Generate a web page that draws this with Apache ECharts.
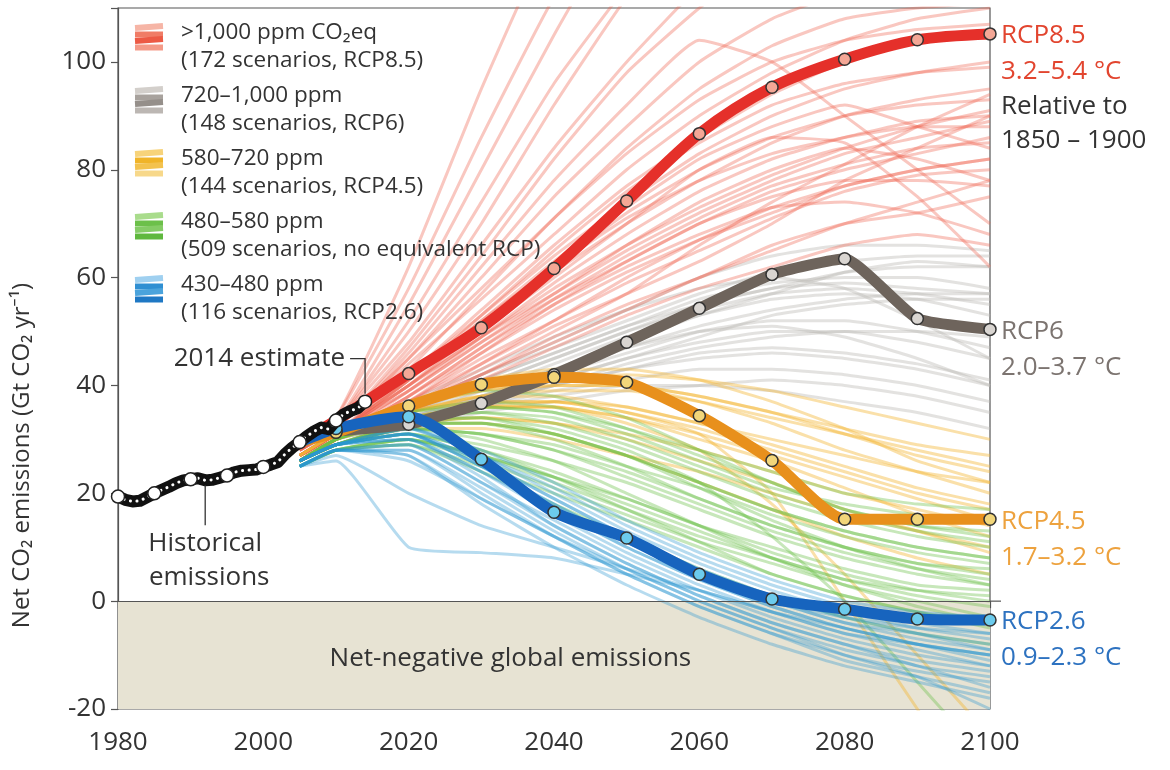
<!DOCTYPE html>
<html><head><meta charset="utf-8">
<script src="https://cdn.jsdelivr.net/npm/echarts@6/dist/echarts.min.js"></script>
<style>html,body{margin:0;padding:0;background:#fff}#c{width:1170px;height:770px}</style>
</head><body><div id="c"></div>
<script>
// ---------- DATA ----------
const xTicks = [1980, 2000, 2020, 2040, 2060, 2080, 2100];
const yTicks = [-20, 0, 20, 40, 60, 80, 100];

const histYears = [1980,1981,1982,1983,1984,1985,1986,1987,1988,1989,1990,1991,1992,1993,1994,1995,1996,1997,1998,1999,2000,2001,2002,2003,2004,2005,2006,2007,2008,2009,2010,2011,2012,2013,2014];
const histValues = [19.4,18.8,18.5,18.6,19.3,20.0,20.6,21.2,21.9,22.4,22.6,22.8,22.4,22.5,22.9,23.3,23.9,24.2,24.3,24.4,24.9,25.3,25.8,27.3,28.5,29.5,30.6,31.5,32.2,31.9,33.5,34.6,35.3,35.8,37.0];
const histMarkerYears = [1980,1985,1990,1995,2000,2005,2010,2014];

const scenYears = [2005,2010,2020,2030,2040,2050,2060,2070,2080,2090,2100];

const rcp85 = [29.5,33.5,42.2,50.7,61.7,74.2,86.7,95.3,100.5,104.1,105.2];
const rcp6  = [29.5,31.5,32.8,36.7,42.0,48.0,54.3,60.6,63.5,52.4,50.4];
const rcp45 = [29.5,31.3,36.2,40.2,41.5,40.6,34.4,26.1,15.2,15.2,15.2];
const rcp26 = [29.5,32.0,34.2,26.3,16.5,11.7,5.0,0.4,-1.5,-3.3,-3.5];

const redScen = [
 [29,34,62,95,125,150,170,185,195,200,205],
 [29,33,55,80,105,128,145,160,170,178,185],
 [28,33,50,70,92,112,128,140,150,155,160],
 [28,32,47,64,82,98,110,120,126,130,132],
 [28,32,45,60,75,88,100,108,113,116,118],
 [28,32,44,56,68,80,90,98,104,108,110],
 [27,31,42,53,64,74,83,90,95,98,100],
 [27,31,41,51,61,70,78,85,90,93,95],
 [27,31,40,49,58,66,73,79,84,88,91],
 [27,31,39,48,56,63,70,76,80,83,86],
 [27,30,38,46,54,61,67,72,77,80,82],
 [26,30,37,45,52,59,65,71,76,79,80],
 [26,30,37,44,51,57,63,70,78,84,90],
 [26,30,36,43,50,57,66,74,81,88,94],
 [27,31,40,50,60,70,80,86,85,75,62],
 [27,31,39,48,57,66,74,80,84,82,78],
 [26,30,36,42,49,55,60,66,70,72,75],
 [28,32,46,62,78,92,104,100,90,80,70],
 [27,31,41,52,63,73,82,88,92,88,84],
 [28,33,52,74,96,114,130,142,150,156,160],
 [26,30,35,41,47,53,58,62,66,68,66],
 [27,31,42,54,66,77,86,94,100,104,106],
 [27,31,43,57,71,84,95,103,108,110,111],
 [26,30,38,47,55,62,68,73,74,72,68],
 [27,31,41,53,65,76,85,92,96,98,99],
 [27,31,40,51,62,72,80,86,90,92,93],
 [27,30,39,49,59,68,76,82,86,89,90],
 [26,30,38,47,56,64,71,77,81,84,85],
 [26,30,37,46,55,63,70,75,78,78,77],
 [26,30,36,44,52,60,67,73,77,80,82],
 [27,31,41,52,62,71,78,83,86,88,88],
 [28,32,45,58,71,83,93,100,104,106,107],
 [28,33,48,66,84,100,114,124,130,134,136],
 [29,34,58,86,112,132,150,162,170,175,178],
 [26,30,36,42,48,54,60,65,70,74,78],
 [27,31,40,49,57,65,72,78,83,86,89]
];
const grayScen = [
 [27,31,36,42,48,54,60,64,66,66,65],
 [27,31,35,40,45,50,54,57,58,57,55],
 [26,30,34,38,42,46,50,52,52,50,47],
 [26,30,34,37,40,43,46,47,46,44,41],
 [26,30,33,36,39,41,43,43,42,40,37],
 [26,29,33,36,38,40,40,39,37,35,32],
 [27,31,36,41,46,51,56,59,60,60,58],
 [26,30,35,39,43,47,50,51,49,45,40],
 [26,30,33,37,41,45,49,53,55,56,56],
 [27,31,37,43,49,54,58,60,58,52,45],
 [26,29,32,35,37,39,40,41,40,38,35],
 [26,30,34,38,43,48,53,57,61,63,62],
 [26,30,35,40,45,50,55,58,61,62,62],
 [26,30,34,39,44,49,53,56,57,56,53],
 [26,30,33,37,41,45,48,50,50,48,45],
 [27,31,36,41,46,51,55,58,59,58,57],
 [26,29,33,36,40,43,45,46,45,43,40],
 [26,30,34,38,42,47,51,54,56,57,57],
 [27,31,36,42,47,52,57,61,63,64,64],
 [26,30,34,37,40,44,47,49,50,50,49]
];
const yellowScen = [
 [27,31,37,40,41,40,37,33,28,24,20],
 [26,30,35,37,37,35,32,28,24,20,17],
 [26,30,34,36,36,34,30,26,21,16,12],
 [27,31,36,39,41,42,41,39,36,33,30],
 [26,29,33,34,33,30,26,22,17,13,9],
 [26,30,35,38,39,39,37,34,31,28,25],
 [26,30,33,33,31,27,22,17,12,8,5],
 [27,31,37,41,43,43,41,37,32,26,22],
 [26,29,32,32,30,27,24,20,16,13,10],
 [26,30,34,36,36,33,28,18,5,-10,-25],
 [26,30,35,38,38,36,33,30,27,24,22],
 [26,30,35,38,40,40,38,35,32,29,27],
 [26,30,34,36,37,36,33,29,25,21,18],
 [27,31,36,39,40,40,38,35,31,27,24],
 [26,29,33,34,33,31,28,24,20,17,14],
 [26,30,34,36,36,34,31,27,23,19,15],
 [26,30,35,37,37,35,31,20,0,-20,-40]
];
const greenScen = [
 [26,30,34,34,31,27,22,17,13,10,8],
 [26,29,32,31,28,23,18,13,9,6,4],
 [26,29,31,28,24,19,14,9,5,2,0],
 [26,30,35,37,36,32,27,22,17,14,12],
 [25,28,30,26,21,16,11,7,3,0,-3],
 [26,29,33,33,30,25,19,14,10,7,5],
 [26,30,36,39,38,34,28,22,17,14,13],
 [25,28,29,24,18,12,6,1,-3,-6,-8],
 [26,29,32,30,26,20,14,8,3,-1,-4],
 [26,29,33,34,32,28,22,12,0,-15,-30],
 [26,30,34,36,35,31,26,21,18,16,15],
 [25,28,30,27,22,17,12,8,4,2,1],
 [26,29,31,28,23,17,11,5,1,-2,-5],
 [26,30,34,35,33,29,24,19,15,12,10],
 [26,30,33,33,31,27,22,17,13,10,8],
 [26,29,32,31,29,25,21,16,12,9,7],
 [26,29,31,29,26,22,17,12,8,5,3],
 [25,28,30,27,23,18,13,8,4,1,-1],
 [26,30,34,35,34,30,25,20,16,13,11],
 [26,29,32,31,28,24,19,14,10,7,6],
 [25,28,29,25,20,15,10,5,1,-2,-4],
 [26,29,33,33,31,27,21,15,10,6,3],
 [26,30,35,36,35,32,28,24,20,18,17],
 [25,28,30,27,23,19,14,10,6,3,2]
];
const blueScen = [
 [26,29,31,25,17,10,4,-1,-5,-8,-10],
 [26,29,30,23,14,7,1,-4,-8,-11,-13],
 [25,28,28,20,12,5,-1,-6,-10,-13,-15],
 [26,29,32,27,20,13,7,2,-2,-5,-7],
 [25,28,27,18,10,3,-3,-8,-12,-15,-18],
 [26,29,31,26,19,12,5,0,-4,-6,-8],
 [25,26,10,9,8,5,2,-2,-6,-8,-10],
 [26,29,30,24,16,9,3,-2,-6,-9,-12],
 [26,29,32,28,22,15,9,4,0,-2,-3],
 [25,28,26,19,12,6,0,-5,-10,-14,-20],
 [26,29,31,25,18,11,5,0,-3,-5,-6],
 [25,28,29,22,15,8,2,-3,-7,-10,-12],
 [26,29,31,25,18,11,5,0,-4,-7,-9],
 [26,29,30,24,17,10,4,-1,-5,-8,-11],
 [25,28,29,22,14,7,1,-4,-8,-12,-14],
 [26,29,31,26,19,12,6,1,-3,-6,-9],
 [25,28,28,21,13,6,0,-5,-9,-12,-16],
 [26,29,32,27,21,14,8,3,-1,-4,-6],
 [25,28,27,19,12,5,-1,-6,-11,-14,-17],
 [25,27,20,14,10,6,2,-2,-5,-8,-10]
];

const legendLines = [
 ['>1,000 ppm CO₂eq','(172 scenarios, RCP8.5)'],
 ['720–1,000 ppm','(148 scenarios, RCP6)'],
 ['580–720 ppm','(144 scenarios, RCP4.5)'],
 ['480–580 ppm','(509 scenarios, no equivalent RCP)'],
 ['430–480 ppm','(116 scenarios, RCP2.6)']
];
const rcpLabels = [
 ['RCP8.5','3.2–5.4 °C'],
 ['RCP6','2.0–3.7 °C'],
 ['RCP4.5','1.7–3.2 °C'],
 ['RCP2.6','0.9–2.3 °C']
];
const yTitle = 'Net CO₂ emissions (Gt CO₂ yr⁻¹)';

// ---------- STYLE ----------
const FONT = '"Open Sans", "Noto Sans", sans-serif';
const TXT = '#333';
const scenStyles = [
 {data: grayScen,   color:'#bdb9b5', op:0.42},
 {data: redScen,    color:'#ef6450', op:0.36},
 {data: yellowScen, color:'#f2b431', op:0.42},
 {data: greenScen,  color:'#6cc04a', op:0.38},
 {data: blueScen,   color:'#2a95d0', op:0.34}
];
const rcpDefs = [
 {vals: rcp6,  line:'#6e645c', mark:'#d9d5d1', label:'#7c7470', smooth:0.15},
 {vals: rcp85, line:'#e5302a', mark:'#f4a796', label:'#e2452f', smooth:0.3},
 {vals: rcp45, line:'#e8901c', mark:'#f2d67a', label:'#eda23e', smooth:0.2},
 {vals: rcp26, line:'#1764be', mark:'#6ccbed', label:'#2d72c0', smooth:0.25}
];
const rcpLabelOrder = [1,0,2,3];

const chart = echarts.init(document.getElementById('c'), null, {renderer:'canvas'});

const series = [];
series.push({
  type:'line', data:[], silent:true, z:0,
  markArea:{silent:true, itemStyle:{color:'#e7e3d3'}, data:[[{yAxis:-20},{yAxis:0}]]}
});
scenStyles.forEach(g => {
  g.data.forEach(arr => {
    series.push({
      type:'line', silent:true, symbol:'none', smooth:0.15, z:1,
      lineStyle:{color:g.color, width:3, opacity:g.op},
      data: scenYears.map((y,i)=>[y, arr[i]])
    });
  });
});
series.push({
  type:'line', data:[], silent:true, z:2,
  markLine:{silent:true, symbol:'none', label:{show:false},
    lineStyle:{color:'#555', width:1.2, type:'solid'}, data:[{yAxis:0}]}
});
rcpDefs.forEach(d => {
  series.push({
    type:'line', silent:true, z:5, smooth:d.smooth,
    symbol:'circle', symbolSize:12, showAllSymbol:true,
    lineStyle:{color:d.line, width:11, cap:'round', join:'round'},
    itemStyle:{color:d.mark, borderColor:'#333', borderWidth:1.5},
    data: scenYears.map((y,i)=> i===0 ? {value:[y,d.vals[i]], symbol:'none'} : [y, d.vals[i]])
  });
});
series.push({
  type:'line', silent:true, z:8, symbol:'none',
  lineStyle:{color:'#111', width:12, cap:'round', join:'round'},
  data: histYears.map((y,i)=>[y, histValues[i]])
});
series.push({
  type:'line', silent:true, z:9, symbol:'none',
  lineStyle:{color:'#fff', width:3, type:[0.1,6.5], cap:'round'},
  data: histYears.map((y,i)=>[y, histValues[i]])
});
series.push({
  type:'scatter', silent:true, z:10, symbolSize:13,
  itemStyle:{color:'#fff', borderColor:'#222', borderWidth:1.5, opacity:1},
  data: histMarkerYears.map(y=>[y, histValues[histYears.indexOf(y)]])
});

const option = {
  animation:false,
  textStyle:{fontFamily:FONT},
  grid:{left:118, right:180, top:8, bottom:61, show:true, borderColor:'#555', borderWidth:1.2,
        backgroundColor:'transparent', containLabel:false, outerBoundsMode:'none'},
  xAxis:{type:'value', min:1980, max:2100, interval:20,
    axisLine:{lineStyle:{color:'#555', width:1.2}},
    axisTick:{show:true, length:7, lineStyle:{color:'#555', width:1.2}},
    axisLabel:{color:TXT, fontSize:26, margin:21, fontFamily:FONT, formatter:v=>xTicks.includes(v)?String(v):''},
    splitLine:{show:false}},
  yAxis:{type:'value', min:-20, max:110, interval:20,
    axisLine:{show:true, lineStyle:{color:'#555', width:1.2}},
    axisTick:{show:true, length:7, lineStyle:{color:'#555', width:1.2}},
    axisLabel:{color:TXT, fontSize:26, margin:12, fontFamily:FONT, formatter:v=>yTicks.includes(v)?String(v):''},
    splitLine:{show:false}},
  series: series
};
chart.setOption(option);

// ---------- ANNOTATIONS (positions derived from data via axes) ----------
function px(x,y){ return chart.convertToPixel({gridIndex:0},[x,y]); }
const g = [];
const swatchCols = [
 ['#f6b5a6','#f07c66','#ec5a45','#f49a88'],
 ['#d3cfcb','#a8a29d','#958f8a','#bcb7b3'],
 ['#f7d37a','#f0b429','#f3c24e','#f7d88a'],
 ['#a9dc8c','#6cc04a','#85cc66','#5fb83e'],
 ['#9fd0f0','#2f8fd2','#4aa3dc','#1f78c4']
];
const legTop = [33, 96, 159, 222, 285];
legendLines.forEach((L,i)=>{
  const y0 = legTop[i];
  for(let k=0;k<4;k++){
    g.push({type:'line', silent:true, z:20,
      shape:{x1:135, y1:y0-5+k*6.5, x2:163, y2:y0-7+k*6.5+(k%2?2:0)},
      style:{stroke:swatchCols[i][k], lineWidth:6}});
  }
  g.push({type:'text', silent:true, z:20, style:{text:L[0], x:181, y:y0, fill:TXT, font:'22.5px '+FONT, textVerticalAlign:'middle'}});
  g.push({type:'text', silent:true, z:20, style:{text:L[1], x:181, y:y0+28, fill:TXT, font:'22.5px '+FONT, textVerticalAlign:'middle'}});
});

// y axis title
const yc = px(1980, 27);
g.push({type:'text', silent:true, z:20, rotation:Math.PI/2, x:yc[0]-96, y:yc[1],
  style:{text:yTitle, x:0, y:0, fill:TXT, font:'24px '+FONT, textAlign:'center', textVerticalAlign:'middle'}});

// right labels
rcpLabelOrder.forEach((di,li)=>{
  const d = rcpDefs[di];
  const p = px(2100, d.vals[d.vals.length-1]);
  const labs = rcpLabels[li];
  g.push({type:'text', silent:true, z:20, style:{text:labs[0], x:p[0]+11, y:p[1]+2, fill:d.label, font:'26px '+FONT, textVerticalAlign:'middle'}});
  g.push({type:'text', silent:true, z:20, style:{text:labs[1], x:p[0]+11, y:p[1]+38, fill:d.label, font:'26px '+FONT, textVerticalAlign:'middle'}});
  if(li===0){
    g.push({type:'text', silent:true, z:20, style:{text:'Relative to', x:p[0]+11, y:p[1]+73, fill:TXT, font:'26px '+FONT, textVerticalAlign:'middle'}});
    g.push({type:'text', silent:true, z:20, style:{text:'1850 – 1900', x:p[0]+11, y:p[1]+107, fill:TXT, font:'26px '+FONT, textVerticalAlign:'middle'}});
  }
});

// zero line extension to the right
const z0 = px(2100,0);
g.push({type:'line', silent:true, z:20, shape:{x1:z0[0], y1:z0[1], x2:z0[0]+11, y2:z0[1]}, style:{stroke:'#555', lineWidth:1.2}});

// Net-negative text
const nn = px(2034,-10.7);
g.push({type:'text', silent:true, z:20, style:{text:'Net-negative global emissions', x:nn[0], y:nn[1], fill:TXT, font:'26px '+FONT, textAlign:'center', textVerticalAlign:'middle'}});

// 2014 estimate
const e = px(2014, histValues[histValues.length-1]);
g.push({type:'text', silent:true, z:20, style:{text:'2014 estimate', x:e[0]-20, y:e[1]-43, fill:TXT, font:'26px '+FONT, textAlign:'right', textVerticalAlign:'middle'}});
g.push({type:'polyline', silent:true, z:20, shape:{points:[[e[0]-15,e[1]-43],[e[0],e[1]-43],[e[0],e[1]-8]]}, style:{stroke:'#333', lineWidth:1.3, fill:null}});

// Historical emissions
const hI = histYears.indexOf(1992);
const h = px(1992, histValues[hI]);
g.push({type:'line', silent:true, z:20, shape:{x1:h[0], y1:h[1]+5, x2:h[0], y2:h[1]+45}, style:{stroke:'#333', lineWidth:1.3}});
g.push({type:'text', silent:true, z:20, style:{text:'Historical', x:h[0], y:h[1]+63, fill:TXT, font:'26px '+FONT, textAlign:'center', textVerticalAlign:'middle'}});
g.push({type:'text', silent:true, z:20, style:{text:'emissions', x:h[0]+4, y:h[1]+97, fill:TXT, font:'26px '+FONT, textAlign:'center', textVerticalAlign:'middle'}});

chart.setOption({graphic: g});
</script></body></html>
